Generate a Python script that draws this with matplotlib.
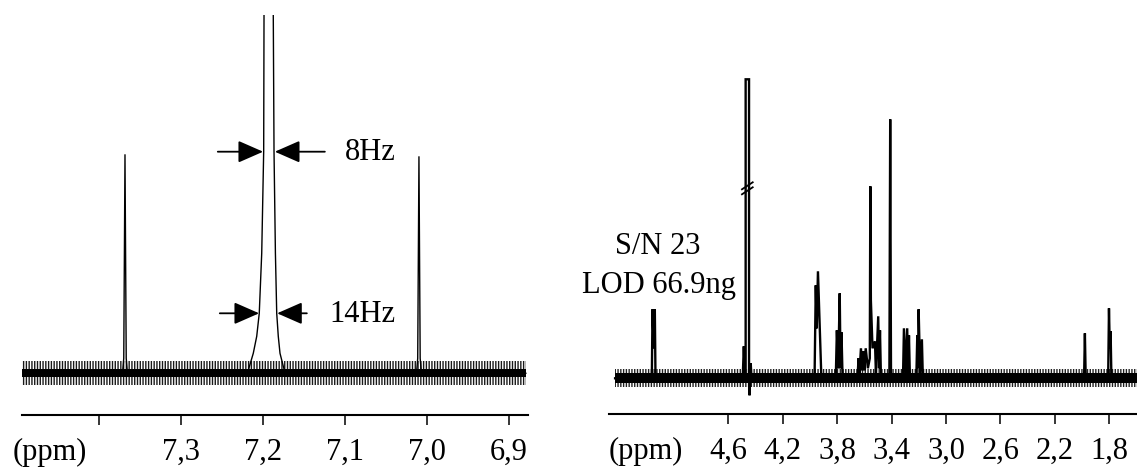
import matplotlib
matplotlib.use("Agg")
import matplotlib.pyplot as plt

plt.rcParams['font.family'] = ['Liberation Serif', 'DejaVu Serif']
plt.rcParams['hatch.linewidth'] = 1.0

# ---------------- data: left panel (7.5 - 6.88 ppm) ----------------
left_xlim = (7.494, 6.876)
left_ticks = [7.4, 7.3, 7.2, 7.1, 7.0, 6.9]
left_ticklabels = ['', '7,3', '7,2', '7,1', '7,0', '6,9']
left_trace_ppm = [7.497, 7.371, 7.3695, 7.368, 7.3665, 7.365,
                  7.2187, 7.2115, 7.2073, 7.2042, 7.2012, 7.1988, 7.1984, 7.1927,
                  7.1871, 7.1862, 7.1845, 7.1829, 7.1810, 7.1789, 7.1727,
                  7.0124, 7.0109, 7.0094, 7.0079, 7.0064, 6.879]
left_trace_int = [0, 0, 15, 219, 15, 0,
                  0, 20, 37, 60, 120, 222, 358, 3000,
                  358, 222, 120, 60, 37, 20, 0,
                  0, 15, 217, 15, 0, 0]
left_noise = 4      # half thickness of the dense noise band
left_noise_max = 12 # half thickness of the noise spikes

# ---------------- data: right panel (5.5 - 1.6 ppm) ----------------
right_xlim = (5.4746, 1.596)
right_ticks = [4.6, 4.2, 3.8, 3.4, 3.0, 2.6, 2.2, 1.8]
right_ticklabels = ['4,6', '4,2', '3,8', '3,4', '3,0', '2,6', '2,2', '1,8']
right_trace_ppm = [5.432, 5.162, 5.157, 5.148, 5.140, 5.135,
                   4.494, 4.486, 4.479, 4.4735,
                   4.4725, 4.4725, 4.4475, 4.4475,
                   4.446, 4.444, 4.440, 4.435, 4.430,
                   3.966, 3.957, 3.950, 3.941, 3.917, 3.910,
                   3.810, 3.802, 3.792, 3.781, 3.775, 3.768, 3.760,
                   3.650, 3.643, 3.636, 3.625, 3.617, 3.608, 3.600, 3.590, 3.574,
                   3.560, 3.556, 3.552, 3.540, 3.522, 3.515, 3.498, 3.492, 3.485, 3.478,
                   3.416, 3.410, 3.404,
                   3.316, 3.309, 3.297, 3.285, 3.279, 3.272, 3.265,
                   3.218, 3.211, 3.206, 3.201, 3.190, 3.177, 3.170,
                   1.985, 1.979, 1.973,
                   1.808, 1.802, 1.796, 1.790, 1.784, 1.596]
right_trace_int = [0, 0, 69, 30, 69, 0,
                   0, 32, 5, 0,
                   0, 299, 299, 0,
                   0, -17, 0, 15, 0,
                   0, 93, 50, 107, 5, 0,
                   0, 48, 10, 85, 10, 46, 0,
                   0, 20, 5, 30, 8, 27, 8, 30, 10,
                   20, 192, 78, 30, 37, 5, 62, 10, 48, 0,
                   0, 259, 0,
                   0, 50, 5, 50, 5, 43, 0,
                   0, 43, 10, 69, 5, 39, 0,
                   0, 45, 0,
                   0, 70, 30, 47, 0, 0]
right_noise = 5
right_noise_max = 9
hdo_break_height = 190  # break mark on the truncated HDO signal

# ---------------- figure ----------------
W, H = 1137, 470
fig = plt.figure(figsize=(W / 100, H / 100), dpi=100)

FS = 22
tick_len_pt = 7.5
tick_pad_pt = 9.0


def make_axes(px_left, px_right, px_axis_y, px_top, baseline_px, xlim):
    ax = fig.add_axes([px_left / W, (H - px_axis_y) / H,
                       (px_right - px_left) / W, (px_axis_y - px_top) / H])
    ax.set_xlim(*xlim)
    # 1 intensity unit = 1 pixel, zero at the spectrum baseline
    ax.set_ylim(-(px_axis_y - baseline_px), baseline_px - px_top)
    for s in ['left', 'right', 'top']:
        ax.spines[s].set_visible(False)
    ax.spines['bottom'].set_linewidth(1.5)
    ax.set_yticks([])
    ax.tick_params(axis='x', direction='out', length=tick_len_pt, width=1.1,
                   pad=tick_pad_pt, labelsize=FS)
    return ax


def noise_band(ax, xs, core, spikes, lw_color):
    ax.fill_between(xs, [-spikes] * 2, [spikes] * 2,
                    facecolor='none', edgecolor=lw_color, hatch='||||||', linewidth=0)
    ax.fill_between(xs, [-core] * 2, [core] * 2,
                    facecolor='black', edgecolor='none')


# ---- left panel
axL = make_axes(21.7, 528.3, 415, 15, 373.3, left_xlim)
axL.set_xticks(left_ticks)
axL.set_xticklabels(left_ticklabels)
noise_band(axL, [left_trace_ppm[0], left_trace_ppm[-1]], left_noise, left_noise_max, '#1a1a1a')
axL.plot(left_trace_ppm, left_trace_int, color='black', lw=1.0, solid_joinstyle='miter')


def px2ppmL(px):
    return 7.4 - (px - 99.0) / 819.4


def yint(py):
    return 373.3 - py


arrow_kw = dict(arrowstyle='-|>,head_length=1.55,head_width=0.68', color='black',
                lw=1.3, shrinkA=0, shrinkB=0)
# 8 Hz
axL.annotate('', xy=(px2ppmL(263.3), yint(151.7)), xytext=(px2ppmL(218), yint(151.7)),
             arrowprops=arrow_kw)
axL.annotate('', xy=(px2ppmL(275.0), yint(151.7)), xytext=(px2ppmL(325), yint(151.7)),
             arrowprops=arrow_kw)
axL.text(px2ppmL(345), yint(152.5), '8Hz', fontsize=FS, ha='left', va='center')
# 14 Hz
axL.annotate('', xy=(px2ppmL(259.3), yint(313.3)), xytext=(px2ppmL(220), yint(313.3)),
             arrowprops=arrow_kw)
axL.annotate('', xy=(px2ppmL(277.3), yint(313.3)), xytext=(px2ppmL(307), yint(313.3)),
             arrowprops=arrow_kw)
axL.text(px2ppmL(330), yint(314), '14Hz', fontsize=FS, ha='left', va='center')

axL.annotate('(ppm)', xy=(px2ppmL(50), 0), xycoords=('data', 'axes fraction'),
             xytext=(0, -(tick_len_pt + tick_pad_pt)), textcoords='offset points',
             ha='center', va='top', fontsize=FS)

# ---- right panel
axR = make_axes(609.3, 1137, 414, 15, 378.3, right_xlim)
axR.set_xticks(right_ticks)
axR.set_xticklabels(right_ticklabels)
noise_band(axR, [right_trace_ppm[0], right_trace_ppm[-1]], right_noise, right_noise_max, '#222222')
axR.plot(right_trace_ppm, right_trace_int, color='black', lw=1.7, solid_joinstyle='miter')

# break mark on the HDO line
hdo_c = 0.5 * (4.4725 + 4.4475)
for dy in (-2.5, 2.5):
    axR.plot([hdo_c + 0.045, hdo_c - 0.045], [hdo_break_height - 4 + dy, hdo_break_height + 4 + dy],
             color='black', lw=1.3, solid_capstyle='butt')


def px2ppmR(px):
    return 4.6 - (px - 728.3) / 136.07


axR.text(px2ppmR(658), 378.3 - 247, 'S/N 23', fontsize=FS, ha='center', va='center')
axR.text(px2ppmR(659), 378.3 - 285, 'LOD 66.9ng', fontsize=FS, ha='center', va='center')
axR.annotate('(ppm)', xy=(px2ppmR(645.5), 0), xycoords=('data', 'axes fraction'),
             xytext=(0, -(tick_len_pt + tick_pad_pt)), textcoords='offset points',
             ha='center', va='top', fontsize=FS)

fig.savefig('out.png', dpi=100)
